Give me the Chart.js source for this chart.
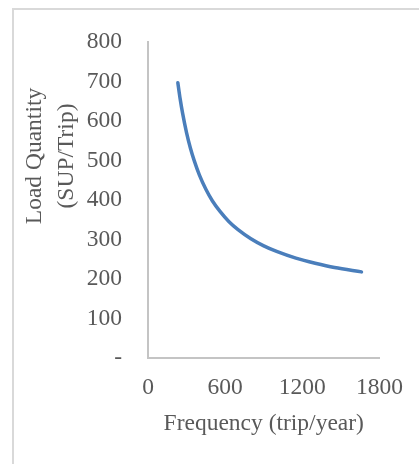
<!DOCTYPE html>
<html>
<head>
<meta charset="utf-8">
<script src="https://cdn.jsdelivr.net/npm/chart.js@4/dist/chart.umd.min.js"></script>
<style>
  html, body { margin: 0; padding: 0; background: #fff; }
  #wrap { position: relative; width: 419px; height: 464px; }
</style>
</head>
<body>
<div id="wrap"><canvas id="c" width="419" height="464"></canvas></div>
<script>
// Data
const frequency = [232, 250, 270, 300, 330, 360, 400, 450, 500, 560, 630, 700, 800, 900, 1000, 1150, 1300, 1450, 1660];
const loadQuantity = [697, 656, 618, 570, 531, 499, 463, 427, 398, 371, 345, 325, 302, 284, 270, 253, 240, 229, 218];
const xTicks = [0, 600, 1200, 1800];
const yTicks = [0, 100, 200, 300, 400, 500, 600, 700, 800];
const xTitle = 'Frequency (trip/year)';
const yTitleLines = ['Load Quantity', '(SUP/Trip)'];

const FONT = "'Liberation Serif', 'Times New Roman', serif";
const TEXT = '#595959';
const AXIS = '#c4c4c4';

const points = frequency.map((f, i) => ({ x: f, y: loadQuantity[i] }));

const frame = {
  id: 'frame',
  beforeDraw(chart) {
    const ctx = chart.ctx;
    ctx.save();
    ctx.fillStyle = '#ffffff';
    ctx.fillRect(0, 0, chart.width, chart.height);
    ctx.strokeStyle = '#d9d9d9';
    ctx.lineWidth = 2;
    ctx.beginPath();
    ctx.moveTo(13, chart.height);
    ctx.lineTo(13, 9);
    ctx.lineTo(chart.width, 9);
    ctx.stroke();
    ctx.restore();
  },
  afterDraw(chart) {
    const ctx = chart.ctx;
    ctx.save();
    ctx.fillStyle = TEXT;
    ctx.font = "23.5px " + FONT;
    ctx.textAlign = 'center';
    ctx.textBaseline = 'middle';
    const cy = 156;
    const xs = [35, 67];
    yTitleLines.forEach((line, i) => {
      ctx.save();
      ctx.translate(xs[i], cy);
      ctx.rotate(-Math.PI / 2);
      ctx.fillText(line, 0, 0);
      ctx.restore();
    });
    ctx.restore();
  }
};

new Chart(document.getElementById('c'), {
  type: 'scatter',
  data: {
    datasets: [{
      data: points,
      showLine: true,
      borderColor: '#4a7ebb',
      backgroundColor: '#4a7ebb',
      borderWidth: 3.5,
      pointRadius: 0,
      pointHoverRadius: 0,
      cubicInterpolationMode: 'monotone',
      borderCapStyle: 'round',
      fill: false
    }]
  },
  options: {
    responsive: false,
    animation: false,
    devicePixelRatio: 1,
    layout: { padding: { left: 0, top: 42, right: 31, bottom: 0 } },
    plugins: { legend: { display: false }, tooltip: { enabled: false } },
    scales: {
      x: {
        type: 'linear',
        min: 0, max: 1800,
        afterBuildTicks(scale) { scale.ticks = xTicks.map(v => ({ value: v })); },
        afterFit(scale) { scale.height = 106; },
        grid: { display: false, drawTicks: false },
        border: { display: true, color: AXIS, width: 2 },
        ticks: {
          color: TEXT,
          font: { family: FONT, size: 23.5 },
          padding: 16,
          maxRotation: 0,
          autoSkip: false,
          callback: (v) => String(v)
        },
        title: {
          display: true,
          text: xTitle,
          color: TEXT,
          font: { family: FONT, size: 23.5 },
          padding: { top: 0, bottom: 26 }
        }
      },
      y: {
        type: 'linear',
        min: 0, max: 800,
        afterBuildTicks(scale) { scale.ticks = yTicks.map(v => ({ value: v })); },
        afterFit(scale) { scale.width = 148; },
        grid: { display: false, drawTicks: false },
        border: { display: true, color: AXIS, width: 2 },
        ticks: {
          color: TEXT,
          font: { family: FONT, size: 23.5 },
          padding: 26,
          autoSkip: false,
          callback: (v) => v === 0 ? '-' : String(v)
        }
      }
    }
  },
  plugins: [frame]
});
</script>
</body>
</html>
